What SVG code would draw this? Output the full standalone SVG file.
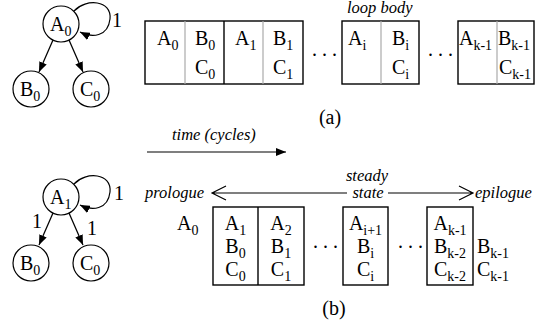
<svg xmlns="http://www.w3.org/2000/svg" width="543" height="322" viewBox="0 0 543 322">
  <defs>
    <marker id="arrow" viewBox="0 0 10 8" refX="10" refY="4" markerWidth="10" markerHeight="8" markerUnits="userSpaceOnUse" orient="auto">
      <path d="M0,0 L10,4 L0,8 z" fill="#000"/>
    </marker>
  </defs>
  <style>
    .node { fill: #fff; stroke: #000; stroke-width: 1.2; }
    .edge { fill: none; stroke: #000; stroke-width: 1.2; marker-end: url(#arrow); }
    .box { fill: #fff; stroke: #000; stroke-width: 1.4; }
    .div { stroke: #000; stroke-width: 1.4; }
    .grey { stroke: #aaa; stroke-width: 1.2; }
    .line { fill: none; stroke: #000; stroke-width: 1.2; }
  </style>
  <rect width="543" height="322" fill="#fff"/>

  <!-- (a) dependence graph -->
  <g id="graph-a-connectors">
    <path class="edge" d="M74,11 C86,-2 112,0 110,19 C108,37 92,38 80,32"/>
    <path class="edge" d="M53,40 L39,72"/>
    <path class="edge" d="M69,40 L83,72"/>
    <text font-family="Liberation Serif" font-size="20" x="112" y="27">1</text>
  </g>
  <g id="a-A0"><circle class="node" cx="61" cy="24" r="18"/><text font-family="Liberation Serif" font-size="20" x="50" y="31">A<tspan font-size="14" dy="5">0</tspan></text></g>
  <g id="a-B0"><circle class="node" cx="31" cy="89" r="18"/><text font-family="Liberation Serif" font-size="20" x="20" y="96">B<tspan font-size="14" dy="5">0</tspan></text></g>
  <g id="a-C0"><circle class="node" cx="91" cy="89" r="18"/><text font-family="Liberation Serif" font-size="20" x="80" y="96">C<tspan font-size="14" dy="5">0</tspan></text></g>

  <!-- (a) loop body schedule -->
  <g id="a-schedule">
    <text font-family="Liberation Serif" font-size="16.5" font-style="italic" x="347" y="13">loop body</text>
    <rect class="box" x="145" y="21" width="158" height="63"/>
    <line class="grey" x1="185" y1="21" x2="185" y2="84"/>
    <line class="div" x1="224" y1="21" x2="224" y2="84"/>
    <line class="grey" x1="263" y1="21" x2="263" y2="84"/>
    <text font-family="Liberation Serif" font-size="20" x="157" y="45">A<tspan font-size="14" dy="5">0</tspan></text>
    <text font-family="Liberation Serif" font-size="20" x="195" y="45">B<tspan font-size="14" dy="5">0</tspan></text>
    <text font-family="Liberation Serif" font-size="20" x="195" y="74">C<tspan font-size="14" dy="5">0</tspan></text>
    <text font-family="Liberation Serif" font-size="20" x="235" y="45">A<tspan font-size="14" dy="5">1</tspan></text>
    <text font-family="Liberation Serif" font-size="20" x="273" y="45">B<tspan font-size="14" dy="5">1</tspan></text>
    <text font-family="Liberation Serif" font-size="20" x="273" y="74">C<tspan font-size="14" dy="5">1</tspan></text>
    <text font-family="Liberation Serif" font-size="20" x="312" y="56">. . .</text>

    <rect class="box" x="342" y="21" width="77" height="63"/>
    <line class="grey" x1="381" y1="21" x2="381" y2="84"/>
    <text font-family="Liberation Serif" font-size="20" x="348" y="45">A<tspan font-size="14" dy="5">i</tspan></text>
    <text font-family="Liberation Serif" font-size="20" x="392" y="45">B<tspan font-size="14" dy="5">i</tspan></text>
    <text font-family="Liberation Serif" font-size="20" x="392" y="74">C<tspan font-size="14" dy="5">i</tspan></text>
    <text font-family="Liberation Serif" font-size="20" x="428" y="56">. . .</text>

    <rect class="box" x="458" y="21" width="76" height="63"/>
    <line class="grey" x1="497" y1="21" x2="497" y2="84"/>
    <text font-family="Liberation Serif" font-size="20" x="459" y="45">A<tspan font-size="14" dy="5">k-1</tspan></text>
    <text font-family="Liberation Serif" font-size="20" x="498" y="45">B<tspan font-size="14" dy="5">k-1</tspan></text>
    <text font-family="Liberation Serif" font-size="20" x="499" y="74">C<tspan font-size="14" dy="5">k-1</tspan></text>
    <text font-family="Liberation Serif" font-size="20" x="330" y="124" text-anchor="middle">(a)</text>
  </g>

  <!-- time axis -->
  <g id="time-axis">
    <text font-family="Liberation Serif" font-size="16.5" font-style="italic" x="172" y="140">time (cycles)</text>
    <path class="edge" d="M147,152 L286,152"/>
  </g>

  <!-- (b) dependence graph -->
  <g id="graph-b-connectors">
    <path class="edge" d="M74,184 C86,171 112,173 110,192 C108,210 92,211 80,205"/>
    <path class="edge" d="M53,213 L39,245"/>
    <path class="edge" d="M69,213 L83,245"/>
    <text font-family="Liberation Serif" font-size="20" x="114" y="200">1</text>
    <text font-family="Liberation Serif" font-size="20" x="32" y="228">1</text>
    <text font-family="Liberation Serif" font-size="20" x="87" y="235">1</text>
  </g>
  <g id="b-A1"><circle class="node" cx="61" cy="197" r="18"/><text font-family="Liberation Serif" font-size="20" x="50" y="204">A<tspan font-size="14" dy="5">1</tspan></text></g>
  <g id="b-B0"><circle class="node" cx="31" cy="263" r="18"/><text font-family="Liberation Serif" font-size="20" x="20" y="270">B<tspan font-size="14" dy="5">0</tspan></text></g>
  <g id="b-C0"><circle class="node" cx="91" cy="263" r="18"/><text font-family="Liberation Serif" font-size="20" x="80" y="270">C<tspan font-size="14" dy="5">0</tspan></text></g>

  <!-- (b) software-pipelined schedule -->
  <g id="b-phases">
    <text font-family="Liberation Serif" font-size="16.5" font-style="italic" x="145" y="198">prologue</text>
    <path class="line" d="M347,193 L212,193 M226,186 L212,193 L226,200"/>
    <text font-family="Liberation Serif" font-size="16.5" font-style="italic" x="367" y="181" text-anchor="middle">steady</text>
    <text font-family="Liberation Serif" font-size="16.5" font-style="italic" x="368" y="198" text-anchor="middle">state</text>
    <path class="line" d="M388,193 L473,193 M459,186 L473,193 L459,200"/>
    <text font-family="Liberation Serif" font-size="16.5" font-style="italic" x="475" y="198">epilogue</text>
  </g>
  <g id="b-schedule">
    <text font-family="Liberation Serif" font-size="20" x="177" y="230">A<tspan font-size="14" dy="5">0</tspan></text>
    <rect class="box" x="213" y="207" width="91" height="78"/>
    <line class="div" x1="258" y1="207" x2="258" y2="285"/>
    <text font-family="Liberation Serif" font-size="20" x="235.5" y="230" text-anchor="middle">A<tspan font-size="14" dy="5">1</tspan></text>
    <text font-family="Liberation Serif" font-size="20" x="235.5" y="253" text-anchor="middle">B<tspan font-size="14" dy="5">0</tspan></text>
    <text font-family="Liberation Serif" font-size="20" x="235.5" y="276" text-anchor="middle">C<tspan font-size="14" dy="5">0</tspan></text>
    <text font-family="Liberation Serif" font-size="20" x="281" y="230" text-anchor="middle">A<tspan font-size="14" dy="5">2</tspan></text>
    <text font-family="Liberation Serif" font-size="20" x="281" y="253" text-anchor="middle">B<tspan font-size="14" dy="5">1</tspan></text>
    <text font-family="Liberation Serif" font-size="20" x="281" y="276" text-anchor="middle">C<tspan font-size="14" dy="5">1</tspan></text>
    <text font-family="Liberation Serif" font-size="20" x="313" y="248">. . .</text>

    <rect class="box" x="343" y="207" width="45" height="78"/>
    <text font-family="Liberation Serif" font-size="20" x="365.5" y="230" text-anchor="middle">A<tspan font-size="14" dy="5">i+1</tspan></text>
    <text font-family="Liberation Serif" font-size="20" x="365.5" y="253" text-anchor="middle">B<tspan font-size="14" dy="5">i</tspan></text>
    <text font-family="Liberation Serif" font-size="20" x="365.5" y="276" text-anchor="middle">C<tspan font-size="14" dy="5">i</tspan></text>
    <text font-family="Liberation Serif" font-size="20" x="398" y="248">. . .</text>

    <rect class="box" x="427" y="207" width="46" height="78"/>
    <text font-family="Liberation Serif" font-size="20" x="450" y="230" text-anchor="middle">A<tspan font-size="14" dy="5">k-1</tspan></text>
    <text font-family="Liberation Serif" font-size="20" x="450" y="253" text-anchor="middle">B<tspan font-size="14" dy="5">k-2</tspan></text>
    <text font-family="Liberation Serif" font-size="20" x="450" y="276" text-anchor="middle">C<tspan font-size="14" dy="5">k-2</tspan></text>
    <text font-family="Liberation Serif" font-size="20" x="477" y="253">B<tspan font-size="14" dy="5">k-1</tspan></text>
    <text font-family="Liberation Serif" font-size="20" x="477" y="276">C<tspan font-size="14" dy="5">k-1</tspan></text>
    <text font-family="Liberation Serif" font-size="20" x="334" y="315" text-anchor="middle">(b)</text>
  </g>
</svg>
